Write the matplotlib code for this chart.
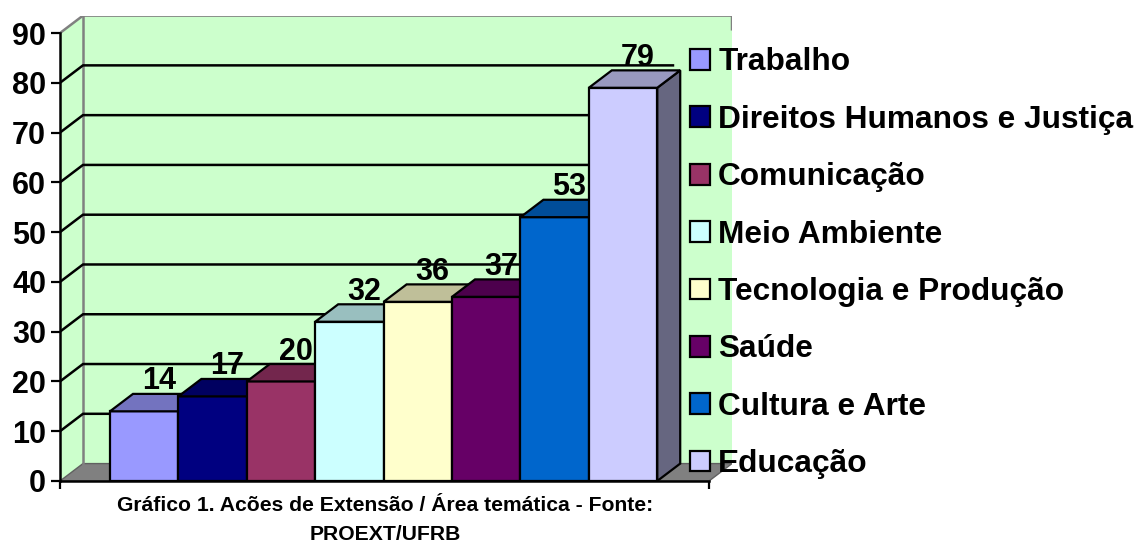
#!/usr/bin/env python3

import matplotlib
matplotlib.use('Agg')
import matplotlib.pyplot as plt
from matplotlib.patches import Polygon


# data
areas = ['Trabalho', 'Direitos Humanos e Justiça', 'Comunicação', 'Meio Ambiente',
         'Tecnologia e Produção', 'Saúde', 'Cultura e Arte', 'Educação']
acoes = [14, 17, 20, 32, 36, 37, 53, 79]
yticks = [0, 10, 20, 30, 40, 50, 60, 70, 80, 90]

front_colors = ['#9999FF', '#000080', '#993366', '#CCFFFF',
                '#FFFFCC', '#660066', '#0066CC', '#CCCCFF']
top_colors = ['#7373BF', '#000060', '#73264D', '#99BFBF',
              '#BFBF99', '#4D004D', '#004D99', '#9999BF']
side_colors = ['#4D4D80', '#000040', '#4D1933', '#668080',
               '#808066', '#330033', '#003366', '#666680']

caption = 'Gráfico 1. Acões de Extensão / Área temática - Fonte:\nPROEXT/UFRB'


def main():
  plt.rcParams['font.family'] = ['Liberation Sans', 'DejaVu Sans']
  plt.rcParams['font.weight'] = 'bold'

  W, H = 1143, 543
  fig = plt.figure(figsize=(W / 100, H / 100), dpi=100)

  # 3d look: front axis from x0 to x1, depth shift (dx, dy)
  x0, x1 = -0.731, 8.757
  dx, dy = 0.336, 3.5
  ymax = yticks[-1]
  grid_end = 8.23

  left, right = 60 / W, 732 / W
  bottom, top = (H - 481) / H, (H - 15.6) / H
  ax = fig.add_axes([left, bottom, right - left, top - bottom])
  ax.set_xlim(x0, x1 + dx)
  ax.set_ylim(0, ymax + dy)
  ax.patch.set_visible(False)

  wall = '#CCFFCC'
  edge = '#808080'

  # side wall, back wall, floor
  ax.add_patch(Polygon([(x0, 0), (x0, ymax), (x0 + dx, ymax + dy), (x0 + dx, dy)],
                       closed=True, facecolor=wall, edgecolor='none', zorder=0.5))
  ax.add_patch(Polygon([(x0 + dx, dy), (x0 + dx, ymax + dy), (x1 + dx, ymax + dy), (x1 + dx, dy)],
                       closed=True, facecolor=wall, edgecolor='none', zorder=0.5))
  ax.add_patch(Polygon([(x0, 0), (x1, 0), (x1 + dx, dy), (x0 + dx, dy)],
                       closed=True, facecolor='#808080', edgecolor='#606060', lw=1, zorder=0.6))
  ax.plot([x0, x0 + dx, x1 + dx, x1 + dx], [ymax, ymax + dy, ymax + dy, ymax + dy - 3],
          color=edge, lw=1.8, zorder=0.7, solid_capstyle='butt')
  ax.plot([x0 + dx, x0 + dx], [dy, ymax + dy], color=edge, lw=1.8, zorder=0.7)

  # gridlines on both walls
  for v in yticks[1:-1]:
    ax.plot([x0, x0 + dx, grid_end], [v, v + dy, v + dy], color='black', lw=1.8, zorder=0.8)

  # bars: front faces through ax.bar, tops and sides as polygons
  bars = ax.bar(range(len(acoes)), acoes, width=1.0, align='edge', color=front_colors,
                edgecolor='black', linewidth=1.6, label=areas)
  for i, (v, patch) in enumerate(zip(acoes, bars)):
    z = 3 + i * 0.1
    patch.set_zorder(z)
    ax.add_patch(Polygon([(i, v), (i + 1, v), (i + 1 + dx, v + dy), (i + dx, v + dy)],
                         closed=True, facecolor=top_colors[i], edgecolor='black', lw=1.6, zorder=z))
    ax.add_patch(Polygon([(i + 1, 0), (i + 1, v), (i + 1 + dx, v + dy), (i + 1 + dx, dy)],
                         closed=True, facecolor=side_colors[i], edgecolor='black', lw=1.6, zorder=z - 0.01))
    ax.text(i + 0.5 + dx / 2 + 0.05, v + 4.4, str(v), ha='center', va='baseline',
            fontsize=22, fontweight='bold', zorder=10)

  # axes lines and ticks
  for s in ['top', 'right']:
    ax.spines[s].set_visible(False)
  ax.spines['left'].set_bounds(0, ymax)
  ax.spines['bottom'].set_bounds(x0, x1)
  for s in ['left', 'bottom']:
    ax.spines[s].set_linewidth(1.8)
    ax.spines[s].set_zorder(6)
  ax.set_yticks(yticks)
  ax.set_xticks([x0, x1])
  ax.set_xticklabels(['', ''])
  ax.tick_params(axis='y', direction='out', length=6.5, width=1.6, pad=3.5, labelsize=22)
  ax.tick_params(axis='x', direction='out', length=5.5, width=1.6)
  for lab in ax.get_yticklabels():
    lab.set_fontweight('bold')

  fig.legend(handles=list(bars), labels=areas, loc='upper left',
             bbox_to_anchor=(690 / W, 1 - 47.5 / H), frameon=False,
             prop={'size': 22.8, 'weight': 'bold'},
             borderpad=0, borderaxespad=0, handlelength=0.63, handleheight=0.63,
             handletextpad=0.26, labelspacing=0.865)

  fig.text(385 / W, 1 - 496 / H, caption, ha='center', va='top', fontsize=15.2,
           fontweight='bold', linespacing=1.65)

  fig.savefig('out.png', dpi=100)


if __name__ == '__main__':
  main()
